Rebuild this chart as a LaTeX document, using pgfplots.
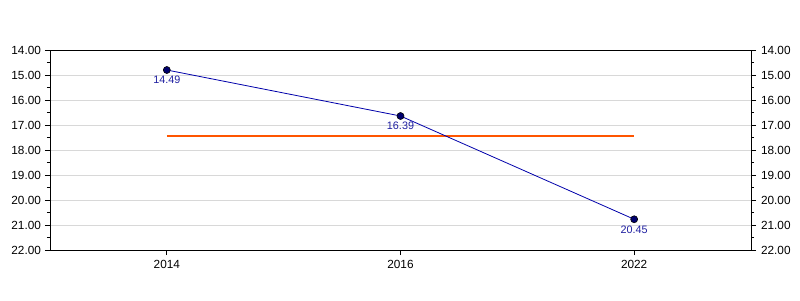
\documentclass[border=0pt]{standalone}
\usepackage{pgfplots}
\pgfplotsset{compat=1.18}
\usepackage{fontspec}
\setmainfont{Liberation Sans}
\definecolor{lineblue}{RGB}{0,0,170}
\definecolor{markfill}{RGB}{0,0,110}
\definecolor{lblblue}{RGB}{30,30,160}
\definecolor{orangeline}{RGB}{255,85,0}
\definecolor{gridgray}{RGB}{216,216,216}
\pgfplotsset{
  base/.style={
    scale only axis, width=701pt, height=200pt,
    xmin=-0.5, xmax=2.5, ymin=14, ymax=22, y dir=reverse,
    ytick={14,15,...,22}, minor y tick num=1,
    xtick={0,1,2}, xticklabels={2014,2016,2022},
    tick align=outside,
    major tick length=5pt, minor tick length=3pt,
    tick style={black, line width=0.8pt},
    /pgf/number format/assume math mode=true,
    /pgf/number format/fixed, /pgf/number format/fixed zerofill,
    /pgf/number format/precision=2,
    ticklabel style={font=\fontsize{11.8}{13}\selectfont, text=black},
    yticklabel style={/pgf/number format/fixed, /pgf/number format/fixed zerofill, /pgf/number format/precision=2},
    axis line style={black, line width=0.9pt},
  }
}
\begin{document}
\begin{tikzpicture}
\begin{axis}[base,
  ytick pos=left, xtick pos=lower,
  ymajorgrids, major grid style={gridgray, line width=0.8pt},
  clip=false,
  xticklabel style={yshift=-2pt},
  yticklabel style={xshift=-0.5pt},
]
\addplot[orangeline, line width=2pt] coordinates {(0,17.43) (2,17.43)};
\addplot[lineblue, line width=0.8pt, mark=*, mark size=3.5pt,
  mark options={fill=markfill, draw=black, line width=0.6pt},
  nodes near coords, point meta=explicit symbolic,
  every node near coord/.append style={anchor=north, inner sep=0pt, yshift=-6pt,
    font=\fontsize{10.8}{12}\selectfont, text=lblblue}]
  coordinates {(0,14.8) [14.49] (1,16.64) [16.39] (2,20.77) [20.45]};
\end{axis}
\begin{axis}[base,
  ytick pos=right, yticklabel pos=right, xtick=\empty,
  axis x line=none, axis y line*=right,
  yticklabel style={xshift=1.5pt},
]
\addplot[draw=none] coordinates {(0,15) (2,20)};
\end{axis}
\useasboundingbox ([shift={(-50pt,-50pt)}]current axis.south west) rectangle ([shift={(49pt,50pt)}]current axis.north east);
\end{tikzpicture}
\end{document}
